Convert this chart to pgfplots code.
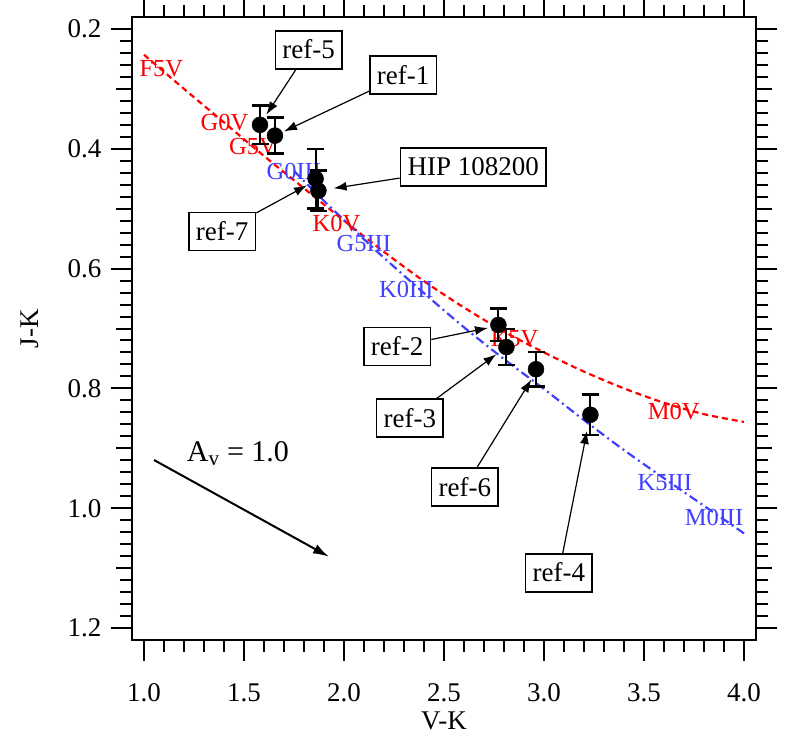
\documentclass[border=0pt]{standalone}
\usepackage{fontspec}
\setmainfont{Liberation Serif}
\usepackage{pgfplots}
\pgfplotsset{compat=1.18}
\usepackage{pgfplotstable}
\usetikzlibrary{arrows.meta}

\definecolor{dwarfred}{RGB}{255,0,0}
\definecolor{giantblue}{RGB}{64,64,255}

\tikzset{
  callout/.style={draw, line width=1.8bp, fill=white,
    font=\fontsize{27bp}{32bp}\selectfont,
    inner xsep=7bp, inner ysep=10bp, text height=18bp, text depth=0bp},
  pointer/.style={line width=1.2bp, -{Latex[length=13bp,width=9bp]}},
  sptype/.style={font=\fontsize{24.5bp}{28bp}\selectfont, inner sep=0pt},
}

% photometry of the sample: V-K, J-K, error in J-K
\pgfplotstableread{
x     y     e
1.580 0.360 0.032
1.655 0.378 0.030
1.858 0.450 0.050
1.872 0.470 0.034
2.772 0.694 0.027
2.812 0.731 0.030
2.960 0.768 0.029
3.232 0.844 0.034
}\stars

% intrinsic colours, main sequence
\pgfplotstableread{
x    y
1.00 0.243
1.20 0.300
1.40 0.356
1.60 0.412
1.80 0.466
2.00 0.520
2.20 0.572
2.40 0.621
2.60 0.665
2.80 0.705
3.00 0.740
3.20 0.772
3.40 0.800
3.60 0.824
3.80 0.843
4.00 0.856
}\dwarfs

% intrinsic colours, giant branch
\pgfplotstableread{
x    y
1.75 0.437
1.90 0.487
2.00 0.519
2.10 0.551
2.20 0.582
2.40 0.641
2.60 0.698
2.80 0.751
3.00 0.801
3.20 0.853
3.40 0.903
3.60 0.950
3.80 0.996
4.00 1.042
}\giants

\begin{document}
\begin{tikzpicture}
\begin{axis}[
  scale only axis,
  width=624bp, height=623bp,
  xmin=0.94, xmax=4.06,
  ymin=0.18, ymax=1.22,
  y dir=reverse,
  xtick={1,1.5,2,2.5,3,3.5,4},
  minor x tick num=4,
  ytick={0.2,0.4,0.6,0.8,1.0,1.2},
  minor y tick num=9,
  extra y ticks={0.3,0.5,0.7,0.9,1.1},
  extra y tick labels={},
  extra y tick style={major tick length=16bp},
  tick align=outside,
  major tick length=21bp,
  minor tick length=12bp,
  axis line style={line width=2bp},
  every tick/.style={black, line width=2bp},
  /pgf/number format/assume math mode=true,
  /pgf/number format/fixed,
  /pgf/number format/fixed zerofill,
  /pgf/number format/precision=1,
  tick label style={font=\fontsize{27bp}{32bp}\selectfont},
  xticklabel shift=19bp,
  yticklabel shift=6bp,
  xlabel={V-K}, ylabel={J-K},
  label style={font=\fontsize{27bp}{32bp}\selectfont},
  xlabel style={at={(axis description cs:0.5,-0.1300)}, anchor=center},
  ylabel style={at={(axis description cs:-0.1635,0.5)}, anchor=center},
  clip=false,
]

% sequences
\addplot[dwarfred, line width=2.2bp, dash pattern=on 6bp off 4bp, smooth]
  table[x=x, y=y] {\dwarfs};
\addplot[giantblue, line width=2.2bp, dash pattern=on 9bp off 4bp on 2bp off 4bp, smooth]
  table[x=x, y=y] {\giants};

% spectral types along the sequences
\node[sptype, dwarfred] at (axis cs:1.087,0.267) {F5V};
\node[sptype, dwarfred] at (axis cs:1.402,0.357) {G0V};
\node[sptype, dwarfred] at (axis cs:1.545,0.396) {G5V};
\node[sptype, dwarfred] at (axis cs:1.962,0.525) {K0V};
\node[sptype, dwarfred] at (axis cs:2.853,0.717) {K5V};
\node[sptype, dwarfred] at (axis cs:3.649,0.838) {M0V};
\node[sptype, giantblue] at (axis cs:1.749,0.438) {G0III};
\node[sptype, giantblue] at (axis cs:2.099,0.558) {G5III};
\node[sptype, giantblue] at (axis cs:2.312,0.635) {K0III};
\node[sptype, giantblue] at (axis cs:3.604,0.957) {K5III};
\node[sptype, giantblue] at (axis cs:3.850,1.016) {M0III};

% the stars
\addplot[black, only marks, mark=*, mark size=8bp,
  error bars/.cd, y dir=both, y explicit,
  error bar style={line width=2bp},
  error mark options={rotate=90, mark size=8.5bp, line width=2.5bp}]
  table[x=x, y=y, y error=e] {\stars};

% reddening vector
\addplot[black, line width=2bp, -{Latex[length=16bp,width=10bp]}]
  coordinates {(1.050,0.9195) (1.925,1.081)};
\node[anchor=base west, font=\fontsize{30bp}{34bp}\selectfont, inner sep=0pt]
  at (axis cs:1.2135,0.9217) {A\textsubscript{v} = 1.0};

% identifications
\node[callout] (r5) at (axis cs:1.8235,0.235) {ref-5};
\node[callout] (r1) at (axis cs:2.296,0.277) {ref-1};
\node[callout] (hip) at (axis cs:2.646,0.430) {HIP 108200};
\node[callout] (r7) at (axis cs:1.391,0.538) {ref-7};
\node[callout] (r2) at (axis cs:2.266,0.730) {ref-2};
\node[callout] (r3) at (axis cs:2.329,0.850) {ref-3};
\node[callout] (r6) at (axis cs:2.604,0.965) {ref-6};
\node[callout] (r4) at (axis cs:3.074,1.108) {ref-4};
\draw[pointer] (r5) -- (axis cs:1.612,0.343);
\draw[pointer] (r1) -- (axis cs:1.700,0.371);
\draw[pointer] (hip) -- (axis cs:1.948,0.466);
\draw[pointer] (r7) -- (axis cs:1.815,0.461);
\draw[pointer] (r2) -- (axis cs:2.720,0.699);
\draw[pointer] (r3) -- (axis cs:2.762,0.743);
\draw[pointer] (r6) -- (axis cs:2.937,0.785);
\draw[pointer] (r4) -- (axis cs:3.215,0.871);
\end{axis}
\pgfresetboundingbox
\path (current axis.south west) ++(-132bp,-96bp) coordinate (bl);
\path (current axis.north east) ++(53bp,17bp) coordinate (tr);
\path[use as bounding box] (bl) rectangle (tr);
\end{tikzpicture}
\end{document}
